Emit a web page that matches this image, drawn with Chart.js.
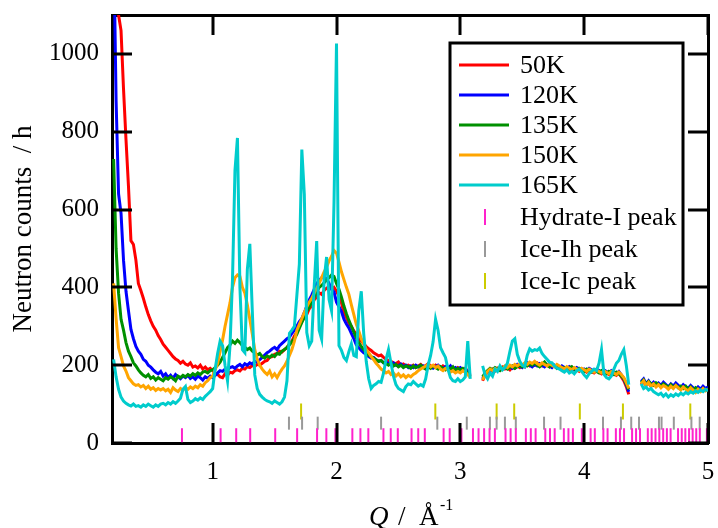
<!DOCTYPE html>
<html>
<head>
<meta charset="utf-8">
<title>Neutron counts vs Q</title>
<script src="https://cdn.jsdelivr.net/npm/chart.js@4.4.1/dist/chart.umd.min.js"></script>
<style>
  html, body { margin: 0; padding: 0; background: #fff; }
  #wrap { width: 718px; height: 528px; }
</style>
</head>
<body>
<div id="wrap"><canvas id="graph"></canvas></div>
<script>
/* Q grid in 1/Angstrom */
var q = [
  0.20,0.22,0.24,0.26,0.28,0.30,0.32,0.34,0.36,0.38,
  0.40,0.42,0.44,0.46,0.48,0.50,0.52,0.54,0.56,0.58,
  0.60,0.62,0.64,0.66,0.68,0.70,0.72,0.74,0.76,0.78,
  0.80,0.82,0.84,0.86,0.88,0.90,0.92,0.94,0.96,0.98,
  1.00,1.02,1.04,1.06,1.08,1.10,1.12,1.14,1.16,1.18,
  1.20,1.22,1.24,1.26,1.28,1.30,1.32,1.34,1.36,1.38,
  1.40,1.42,1.44,1.46,1.48,1.50,1.52,1.54,1.56,1.58,
  1.60,1.62,1.64,1.66,1.68,1.70,1.72,1.74,1.76,1.78,
  1.80,1.82,1.84,1.86,1.88,1.90,1.92,1.94,1.96,1.98,
  2.00,2.02,2.04,2.06,2.08,2.10,2.12,2.14,2.16,2.18,
  2.20,2.22,2.24,2.26,2.28,2.30,2.32,2.34,2.36,2.38,
  2.40,2.42,2.44,2.46,2.48,2.50,2.52,2.54,2.56,2.58,
  2.60,2.62,2.64,2.66,2.68,2.70,2.72,2.74,2.76,2.78,
  2.80,2.82,2.84,2.86,2.88,2.90,2.92,2.94,2.96,2.98,
  3.00,3.02,3.04,3.06,3.08,3.10,3.12,3.14,3.16,3.18,
  3.20,3.22,3.24,3.26,3.28,3.30,3.32,3.34,3.36,3.38,
  3.40,3.42,3.44,3.46,3.48,3.50,3.52,3.54,3.56,3.58,
  3.60,3.62,3.64,3.66,3.68,3.70,3.72,3.74,3.76,3.78,
  3.80,3.82,3.84,3.86,3.88,3.90,3.92,3.94,3.96,3.98,
  4.00,4.02,4.04,4.06,4.08,4.10,4.12,4.14,4.16,4.18,
  4.20,4.22,4.24,4.26,4.28,4.30,4.32,4.34,4.36,4.38,
  4.40,4.42,4.44,4.46,4.48,4.50,4.52,4.54,4.56,4.58,
  4.60,4.62,4.64,4.66,4.68,4.70,4.72,4.74,4.76,4.78,
  4.80,4.82,4.84,4.86,4.88,4.90,4.92,4.94,4.96,4.98,
  5.00
];

// counts per hour; null = gap between detector banks
var counts50K = [
  1500,1200,1100,1060,910,780,660,520,510,470,
  410,392,372,350,330,314,300,290,276,266,
  254,246,238,230,222,216,212,205,210,203,
  200,206,195,198,193,200,190,195,188,192,
  186,180,176,170,168,178,174,182,180,186,
  188,185,192,190,196,194,199,197,202,200,
  205,210,212,220,222,228,230,236,234,240,
  245,255,262,275,285,300,312,322,330,345,
  352,368,375,386,382,392,398,402,396,400,
  390,378,360,335,322,308,300,288,280,268,
  262,255,248,242,238,232,228,224,226,220,
  215,212,210,206,204,208,200,203,198,200,
  196,200,194,198,202,196,199,204,198,195,
  200,196,192,198,194,190,196,192,188,194,
  190,186,192,184,172,null,null,null,null,160,
  175,182,186,190,185,192,188,195,190,193,
  188,195,192,198,194,200,196,202,198,204,
  200,206,202,198,204,200,196,202,198,194,
  196,192,188,194,190,186,192,188,184,190,
  186,182,188,184,180,186,182,178,184,180,
  176,182,178,174,180,170,160,145,125,null,
  null,null,null,150,158,148,155,145,152,146,
  150,144,152,146,140,148,142,150,144,138,
  146,140,136,144,138,132,140,134,142,136,
  140
];
var counts120K = [
  1300,880,640,590,470,390,340,292,268,248,
  236,228,215,210,200,195,188,182,178,184,
  172,178,168,174,166,176,170,165,172,168,
  174,166,170,164,172,168,162,170,166,172,
  168,174,180,186,184,190,188,194,196,192,
  198,202,196,204,200,206,203,210,208,214,
  220,226,232,236,242,246,240,250,256,262,
  268,272,282,290,300,312,320,335,352,368,
  380,395,410,418,425,428,422,410,395,388,
  362,350,338,318,306,296,282,268,252,245,
  238,232,228,222,218,220,214,210,212,206,
  208,204,202,206,200,198,203,196,200,194,
  198,194,200,196,192,198,194,200,196,192,
  196,200,194,190,196,192,198,188,194,190,
  194,188,190,182,175,null,null,null,null,165,
  178,185,190,184,192,188,194,190,196,192,
  198,192,196,202,198,194,200,206,200,196,
  202,198,204,200,196,202,198,194,200,196,
  192,198,194,190,196,192,188,194,190,186,
  190,186,192,188,184,190,186,182,188,184,
  180,186,182,178,184,175,165,150,132,null,
  null,null,null,158,165,152,160,150,156,148,
  154,148,156,150,144,152,146,154,148,142,
  150,144,140,148,142,136,144,138,146,140,
  144
];
var counts135K = [
  730,500,385,318,290,258,236,222,206,198,
  188,180,174,170,176,166,170,162,168,164,
  160,168,164,170,166,160,172,168,174,170,
  176,172,178,174,180,176,182,184,180,186,
  188,194,200,208,220,232,245,252,262,256,
  264,258,250,246,240,244,236,232,226,230,
  222,218,224,220,226,222,230,228,236,240,
  246,252,260,268,280,295,310,325,338,350,
  362,375,388,400,405,412,420,425,432,428,
  410,395,375,352,332,315,300,285,270,258,
  248,240,232,226,222,218,214,210,212,206,
  204,200,206,198,202,196,200,194,198,196,
  192,198,194,196,200,194,190,196,192,198,
  194,190,196,192,188,194,190,196,186,192,
  188,192,186,180,172,null,null,null,null,170,
  180,186,192,188,194,190,186,192,196,190,
  194,198,192,196,200,196,202,198,204,200,
  206,200,196,202,208,200,196,202,198,192,
  196,190,194,188,192,196,190,186,192,188,
  184,190,186,182,188,184,180,186,182,178,
  184,180,176,182,178,172,166,152,138,null,
  null,null,null,155,162,150,158,152,148,155,
  150,146,152,148,142,150,144,148,142,146,
  140,146,138,144,136,142,138,134,140,136,
  138
];
var counts150K = [
  410,320,245,222,198,185,168,160,152,148,
  150,144,148,140,146,138,142,135,140,136,
  140,134,138,130,142,136,132,140,136,142,
  138,144,140,146,142,150,146,155,160,168,
  172,188,205,235,265,300,330,360,400,425,
  432,428,400,385,355,318,280,240,215,200,
  190,182,176,185,170,178,168,180,190,198,
  210,225,240,262,290,305,320,335,350,362,
  372,385,398,410,425,440,452,468,480,495,
  488,465,440,420,400,382,355,330,305,288,
  268,255,240,232,222,214,205,198,190,186,
  180,184,176,180,172,178,170,175,168,174,
  170,176,180,186,190,194,198,202,196,200,
  194,198,190,186,192,188,182,186,180,184,
  180,186,182,176,168,null,null,null,null,162,
  176,184,190,186,192,188,194,190,198,194,
  200,196,202,198,204,200,206,202,208,204,
  210,204,200,206,202,198,204,200,196,202,
  198,194,190,196,192,188,194,190,186,192,
  188,184,190,186,182,188,184,180,186,182,
  178,184,180,176,182,176,168,155,140,null,
  null,null,null,152,160,148,156,146,152,144,
  150,142,148,144,138,146,140,148,142,136,
  144,138,134,142,136,130,138,132,140,134,
  138
];
var counts165K = [
  215,170,138,118,108,102,98,95,100,94,
  96,92,98,94,100,96,92,98,94,100,
  102,98,104,100,106,102,108,115,138,145,
  112,104,108,114,110,116,112,120,126,132,
  140,190,230,262,250,200,160,250,420,700,
  784,400,240,232,446,512,340,175,140,125,
  118,112,108,106,102,108,104,100,106,118,
  160,282,290,300,380,460,754,640,284,250,
  262,403,519,290,267,420,478,369,340,620,
  1027,250,238,220,212,235,255,225,222,340,
  390,280,210,165,140,148,152,158,156,180,
  215,240,205,172,150,140,136,132,145,152,
  150,158,152,146,150,146,165,200,225,260,
  318,290,245,232,220,190,168,160,158,165,
  158,162,170,262,165,null,null,null,null,198,
  175,165,180,172,190,184,198,188,194,205,
  235,262,268,228,210,200,196,225,242,236,
  240,238,244,230,222,215,208,206,198,192,
  190,186,182,188,180,184,178,186,190,184,
  175,168,178,184,190,186,205,240,176,168,
  165,172,190,205,212,228,240,200,150,null,
  null,null,null,152,140,144,136,140,132,128,
  124,128,120,126,118,124,120,126,122,128,
  124,130,126,132,128,134,130,136,132,138,
  134
];

// reflection positions (Q) marked along the bottom
var hydratePeaks = [
  0.752,1.064,1.190,1.303,1.505,1.682,1.843,1.918,1.991,2.128,
  2.193,2.257,2.379,2.438,2.495,2.606,2.660,2.713,2.865,2.914,
  3.009,3.102,3.147,3.192,3.236,3.279,3.365,3.406,3.448,3.529,
  3.569,3.608,3.686,3.724,3.762,3.836,3.873,3.909,3.981,4.052,
  4.086,4.155,4.189,4.256,4.289,4.322,4.387,4.419,4.451,4.514,
  4.545,4.576,4.607,4.638,4.668,4.698,4.758,4.788,4.817,4.847,
  4.876,4.905,4.934,4.991
];
var iceIhPeaks = [
  1.616,1.722,1.848,2.360,2.814,3.052,3.239,3.293,3.360,3.448,
  3.676,3.809,4.152,4.297,4.380,4.443,4.604,4.625,4.724,4.866,
  4.933
];
var iceIcPeaks = [1.714,2.798,3.293,3.435,3.965,4.313,4.857];

var xTicks = [1, 2, 3, 4, 5];
var yTicks = [0, 200, 400, 600, 800, 1000];

var serif = '"Liberation Serif", "Times New Roman", serif';
Chart.defaults.font.family = serif;
Chart.defaults.color = '#000';

function curve(label, values, color, order) {
  return {
    label: label,
    kind: 'line',
    data: q.map(function (x, i) { return { x: x, y: values[i] } }),
    showLine: true,
    borderColor: color,
    backgroundColor: color,
    borderWidth: 3,
    pointRadius: 0,
    tension: 0,
    spanGaps: false,
    xAxisID: 'x',
    yAxisID: 'y',
    order: order
  }
}

function peakMarks(label, positions, row, half, color) {
  return {
    label: label,
    kind: 'tick',
    data: positions.map(function (x) { return { x: x, y: row } }),
    showLine: false,
    pointStyle: 'line',
    pointRotation: 90,
    pointRadius: half,
    pointBorderColor: color,
    pointBorderWidth: 2,
    borderColor: color,
    xAxisID: 'x',
    yAxisID: 'y',
    order: 5
  }
}

var noGrid = { display: false, drawTicks: false, tickLength: 0 };
var frameBorder = { display: true, color: '#000', width: 3 };

function fixTicks(list) {
  return function (scale) {
    scale.ticks = list.map(function (v) { return { value: v } });
  }
}

// pin an axis to a fixed thickness and drop the label overhang padding
function fixSize(size) {
  return function (s) {
    if (s.isHorizontal()) s.height = size; else s.width = size;
    s.paddingTop = 0;
    s.paddingBottom = 0;
    s.paddingLeft = 0;
    s.paddingRight = 0;
  }
}

// tick marks pointing into the plot on all four sides
var innerTicks = {
  id: 'innerTicks',
  afterDatasetsDraw: function (chart) {
    var ctx = chart.ctx;
    var a = chart.chartArea;
    var len = 20;
    ctx.save();
    ctx.strokeStyle = '#000';
    ctx.lineWidth = 3;
    ctx.beginPath();
    chart.scales.x.ticks.forEach(function (t) {
      var px = Math.round(chart.scales.x.getPixelForValue(t.value));
      ctx.moveTo(px, a.bottom);
      ctx.lineTo(px, a.bottom - len);
      ctx.moveTo(px, a.top);
      ctx.lineTo(px, a.top + len);
    });
    chart.scales.y.ticks.forEach(function (t) {
      var py = Math.round(chart.scales.y.getPixelForValue(t.value));
      ctx.moveTo(a.left, py);
      ctx.lineTo(a.left + len, py);
      ctx.moveTo(a.right, py);
      ctx.lineTo(a.right - len, py);
    });
    ctx.stroke();
    ctx.restore();
  }
};

// boxed legend sitting inside the plot, top right
var boxLegend = {
  id: 'boxLegend',
  afterDatasetsDraw: function (chart) {
    var ctx = chart.ctx;
    var area = chart.chartArea;
    var left = area.right - 258, top = area.top + 28;
    var width = 233, height = 262;
    ctx.save();
    ctx.fillStyle = '#fff';
    ctx.fillRect(left, top, width, height);
    ctx.lineWidth = 3;
    ctx.strokeStyle = '#000';
    ctx.strokeRect(left, top, width, height);
    ctx.font = '26px ' + serif;
    ctx.textBaseline = 'middle';
    ctx.textAlign = 'left';
    chart.data.datasets.forEach(function (ds, i) {
      var y = top + 22 + i * 30 + (i > 4 ? (i - 4) * 2 : 0);
      if (ds.kind === 'line') {
        ctx.strokeStyle = ds.borderColor;
        ctx.lineWidth = 3;
        ctx.beginPath();
        ctx.moveTo(left + 9, y);
        ctx.lineTo(left + 59, y);
        ctx.stroke();
      } else {
        ctx.strokeStyle = ds.pointBorderColor;
        ctx.lineWidth = 2;
        ctx.beginPath();
        ctx.moveTo(left + 35, y - 8);
        ctx.lineTo(left + 35, y + 8);
        ctx.stroke();
      }
      ctx.fillStyle = '#000';
      ctx.fillText(ds.label, left + 70, y + 1);
    });
    ctx.restore();
  }
};

// x title: italic Q over inverse Angstrom
var qTitle = {
  id: 'qTitle',
  afterDraw: function (chart) {
    var ctx = chart.ctx;
    var cx = (chart.chartArea.left + chart.chartArea.right) / 2;
    var base = 525;
    ctx.save();
    ctx.fillStyle = '#000';
    ctx.textBaseline = 'alphabetic';
    ctx.textAlign = 'left';
    ctx.font = 'italic 27px ' + serif;
    ctx.fillText('Q', cx - 41, base);
    ctx.font = '27px ' + serif;
    ctx.fillText('/', cx - 12, base);
    ctx.fillText('Å', cx + 9, base);
    ctx.font = '16px ' + serif;
    ctx.fillText('-1', cx + 30, base - 15);
    ctx.restore();
  }
};

var ctx_graph = document.getElementById('graph').getContext('2d');

var data_graph = {
  datasets: [
    curve('50K', counts50K, '#ff0000', 4),
    curve('120K', counts120K, '#0000ff', 3),
    curve('135K', counts135K, '#009000', 2),
    curve('150K', counts150K, '#ffa500', 1),
    curve('165K', counts165K, '#00cccc', 0),
    peakMarks('Hydrate-I peak', hydratePeaks, 20, 7, '#ff22cc'),
    peakMarks('Ice-Ih peak', iceIhPeaks, 51, 6.5, '#999999'),
    peakMarks('Ice-Ic peak', iceIcPeaks, 81, 8, '#cccc00')
  ]
};

var config_graph = {
  type: 'scatter',
  data: data_graph,
  options: {
    animation: false,
    responsive: true,
    maintainAspectRatio: false,
    devicePixelRatio: 1,
    events: [],
    layout: { padding: 0 },
    plugins: {
      legend: { display: false },
      tooltip: { enabled: false }
    },
    scales: {
      x: {
        type: 'linear',
        position: 'bottom',
        min: 0.187,
        max: 5,
        afterBuildTicks: fixTicks(xTicks),
        afterFit: fixSize(85),
        grid: noGrid,
        border: frameBorder,
        ticks: {
          font: { size: 25 },
          padding: 14,
          maxRotation: 0,
          autoSkip: false,
          callback: function (v) { return String(v) }
        }
      },
      xTop: {
        type: 'linear',
        position: 'top',
        min: 0.187,
        max: 5,
        afterFit: fixSize(15),
        grid: noGrid,
        border: frameBorder,
        ticks: { display: false }
      },
      y: {
        type: 'linear',
        position: 'left',
        min: 0,
        max: 1100,
        afterBuildTicks: fixTicks(yTicks),
        afterFit: fixSize(112),
        grid: noGrid,
        border: frameBorder,
        ticks: {
          font: { size: 25 },
          padding: 13,
          callback: function (v) { return String(v) }
        },
        title: {
          display: true,
          text: 'Neutron counts  / h',
          font: { size: 27 },
          padding: { top: 8, bottom: 0 }
        }
      },
      yRight: {
        type: 'linear',
        position: 'right',
        min: 0,
        max: 1100,
        afterFit: fixSize(6),
        grid: noGrid,
        border: frameBorder,
        ticks: { display: false }
      }
    }
  },
  plugins: [innerTicks, boxLegend, qTitle]
};

var graph = new Chart(ctx_graph, config_graph);
</script>
</body>
</html>
